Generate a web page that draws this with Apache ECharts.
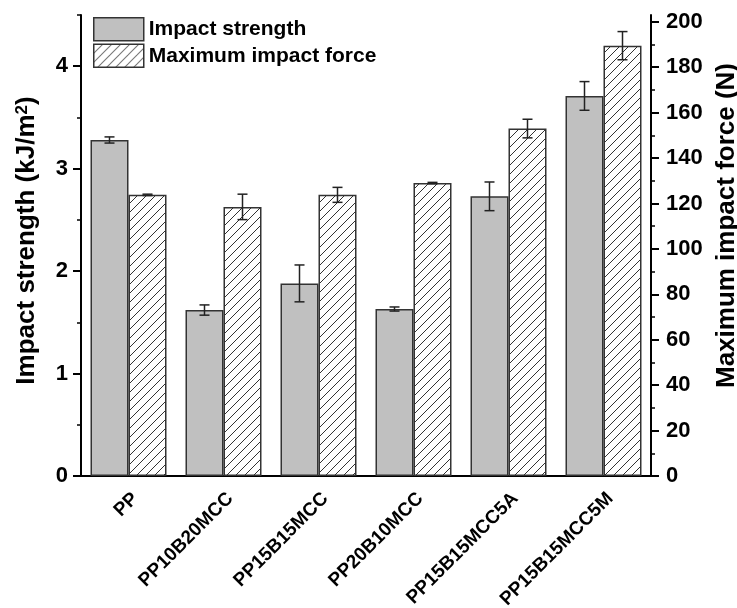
<!DOCTYPE html>
<html>
<head>
<meta charset="utf-8">
<script src="https://cdn.jsdelivr.net/npm/echarts@6/dist/echarts.min.js"></script>
<style>
  html, body { margin: 0; padding: 0; background: #fff; }
  #chart { width: 737px; height: 608px; }
</style>
</head>
<body>
<div id="chart"></div>
<script>
// Sample names on the category axis
const categories = ['PP', 'PP10B20MCC', 'PP15B15MCC', 'PP20B10MCC', 'PP15B15MCC5A', 'PP15B15MCC5M'];
// Impact strength (kJ/m²) with standard deviations
const impactStrength = [3.28, 1.62, 1.88, 1.63, 2.73, 3.71];
const impactStrengthErr = [0.03, 0.05, 0.18, 0.02, 0.14, 0.14];
// Maximum impact force (N) with standard deviations
const maxForce = [123.8, 118.5, 123.8, 129.0, 153.0, 189.5];
const maxForceErr = [0.3, 5.6, 3.3, 0.3, 4.1, 6.2];
// Axis tick labels
const leftTicks = [0, 1, 2, 3, 4];
const leftMinorTicks = [0.5, 1.5, 2.5, 3.5, 4.5];
const rightTicks = [0, 20, 40, 60, 80, 100, 120, 140, 160, 180, 200];
const rightMinorTicks = [10, 30, 50, 70, 90, 110, 130, 150, 170, 190];

const FONT = '"Liberation Sans", Arial, sans-serif';
const INK = '#222';

// Diagonal hatch tile for the force bars
function hatchTile() {
  const s = 9;
  const c = document.createElement('canvas');
  c.width = s; c.height = s;
  const g = c.getContext('2d');
  g.fillStyle = '#fff';
  g.fillRect(0, 0, s, s);
  g.strokeStyle = '#333';
  g.lineWidth = 1;
  g.beginPath();
  g.moveTo(0, s); g.lineTo(s, 0);
  g.moveTo(-1, 1); g.lineTo(1, -1);
  g.moveTo(s - 1, s + 1); g.lineTo(s + 1, s - 1);
  g.stroke();
  return c;
}
const hatch = { image: hatchTile(), repeat: 'repeat' };

// Error bar renderer; shift is the bar's offset as a fraction of the band
function errorBars(shift) {
  return function (params, api) {
    const i = api.value(0), v = api.value(1), e = api.value(2);
    const band = api.size([1, 0])[0];
    const top = api.coord([i, v + e]);
    const bot = api.coord([i, v - e]);
    const x = top[0] + shift * band;
    const cap = 5;
    const style = { stroke: INK, lineWidth: 1.5, fill: null };
    return {
      type: 'group',
      children: [
        { type: 'line', shape: { x1: x, y1: top[1], x2: x, y2: bot[1] }, style },
        { type: 'line', shape: { x1: x - cap, y1: top[1], x2: x + cap, y2: top[1] }, style },
        { type: 'line', shape: { x1: x - cap, y1: bot[1], x2: x + cap, y2: bot[1] }, style }
      ]
    };
  };
}

const axisTextStyle = { color: '#000', fontFamily: FONT, fontWeight: 'bold' };

const option = {
  animation: false,
  backgroundColor: '#fff',
  grid: { left: 81, right: 86, top: 15, bottom: 132, outerBoundsMode: 'none', containLabel: false },
  legend: {
    orient: 'vertical',
    left: 88,
    top: 12,
    itemWidth: 50,
    itemHeight: 23,
    itemGap: 2,
    textStyle: { color: '#000', fontFamily: FONT, fontWeight: 'bold', fontSize: 21, lineHeight: 23 },
    data: [
      { name: 'Impact strength', icon: 'rect', itemStyle: { color: '#c0c0c0', borderColor: '#333', borderWidth: 1.5 } },
      { name: 'Maximum impact force', icon: 'rect', itemStyle: { color: hatch, borderColor: '#333', borderWidth: 1.5 } }
    ]
  },
  xAxis: {
    type: 'category',
    data: categories,
    axisTick: { show: false },
    axisLine: { lineStyle: { color: '#000', width: 2 } },
    axisLabel: Object.assign({ rotate: 45, fontSize: 19, margin: 13, interval: 0, verticalAlign: 'top' }, axisTextStyle)
  },
  yAxis: [
    {
      type: 'value', position: 'left', min: 0, max: 4.5,
      name: 'Impact strength (kJ/m{sup|2})', nameLocation: 'middle', nameRotate: 90, nameGap: 41,
      nameTextStyle: Object.assign({
        fontSize: 26,
        padding: [0, 0, 0, 10],
        rich: { sup: { fontSize: 17, fontWeight: 'bold', fontFamily: FONT, color: '#000', verticalAlign: 'top' } }
      }, axisTextStyle),
      splitLine: { show: false },
      axisLine: { show: true, lineStyle: { color: '#000', width: 2 } },
      axisTick: { show: true, length: 8, customValues: leftTicks, lineStyle: { color: '#000', width: 2 } },
      axisLabel: Object.assign({ fontSize: 22, margin: 13, customValues: leftTicks }, axisTextStyle)
    },
    {
      type: 'value', position: 'right', min: 0, max: 203,
      name: 'Maximum impact force (N)', nameLocation: 'middle', nameRotate: 90, nameGap: 63,
      nameTextStyle: Object.assign({ fontSize: 26, padding: [0, 0, 0, 40] }, axisTextStyle),
      splitLine: { show: false },
      axisLine: { show: true, lineStyle: { color: '#000', width: 2 } },
      axisTick: { show: true, length: 8, customValues: rightTicks, lineStyle: { color: '#000', width: 2 } },
      axisLabel: Object.assign({ fontSize: 22, margin: 15, customValues: rightTicks }, axisTextStyle)
    },
    {
      // minor ticks on the left axis
      type: 'value', position: 'left', min: 0, max: 4.5,
      splitLine: { show: false },
      axisLine: { show: false },
      axisLabel: { show: false },
      axisTick: { show: true, length: 4, customValues: leftMinorTicks, lineStyle: { color: '#000', width: 1.5 } }
    },
    {
      // minor ticks on the right axis
      type: 'value', position: 'right', min: 0, max: 203,
      splitLine: { show: false },
      axisLine: { show: false },
      axisLabel: { show: false },
      axisTick: { show: true, length: 4, customValues: rightMinorTicks, lineStyle: { color: '#000', width: 1.5 } }
    }
  ],
  series: [
    {
      name: 'Impact strength',
      type: 'bar',
      yAxisIndex: 0,
      data: impactStrength,
      barGap: '0%',
      barCategoryGap: '20%',
      itemStyle: { color: '#c0c0c0', borderColor: '#333', borderWidth: 1.5 }
    },
    {
      name: 'Maximum impact force',
      type: 'bar',
      yAxisIndex: 1,
      data: maxForce,
      barGap: '0%',
      barCategoryGap: '20%',
      itemStyle: { color: hatch, borderColor: '#333', borderWidth: 1.5 }
    },
    {
      type: 'custom',
      yAxisIndex: 0,
      z: 5,
      renderItem: errorBars(-0.2),
      data: impactStrength.map((v, i) => [i, v, impactStrengthErr[i]])
    },
    {
      type: 'custom',
      yAxisIndex: 1,
      z: 5,
      renderItem: errorBars(0.2),
      data: maxForce.map((v, i) => [i, v, maxForceErr[i]])
    }
  ]
};

echarts.init(document.getElementById('chart'), null, { renderer: 'canvas' }).setOption(option);
</script>
</body>
</html>
